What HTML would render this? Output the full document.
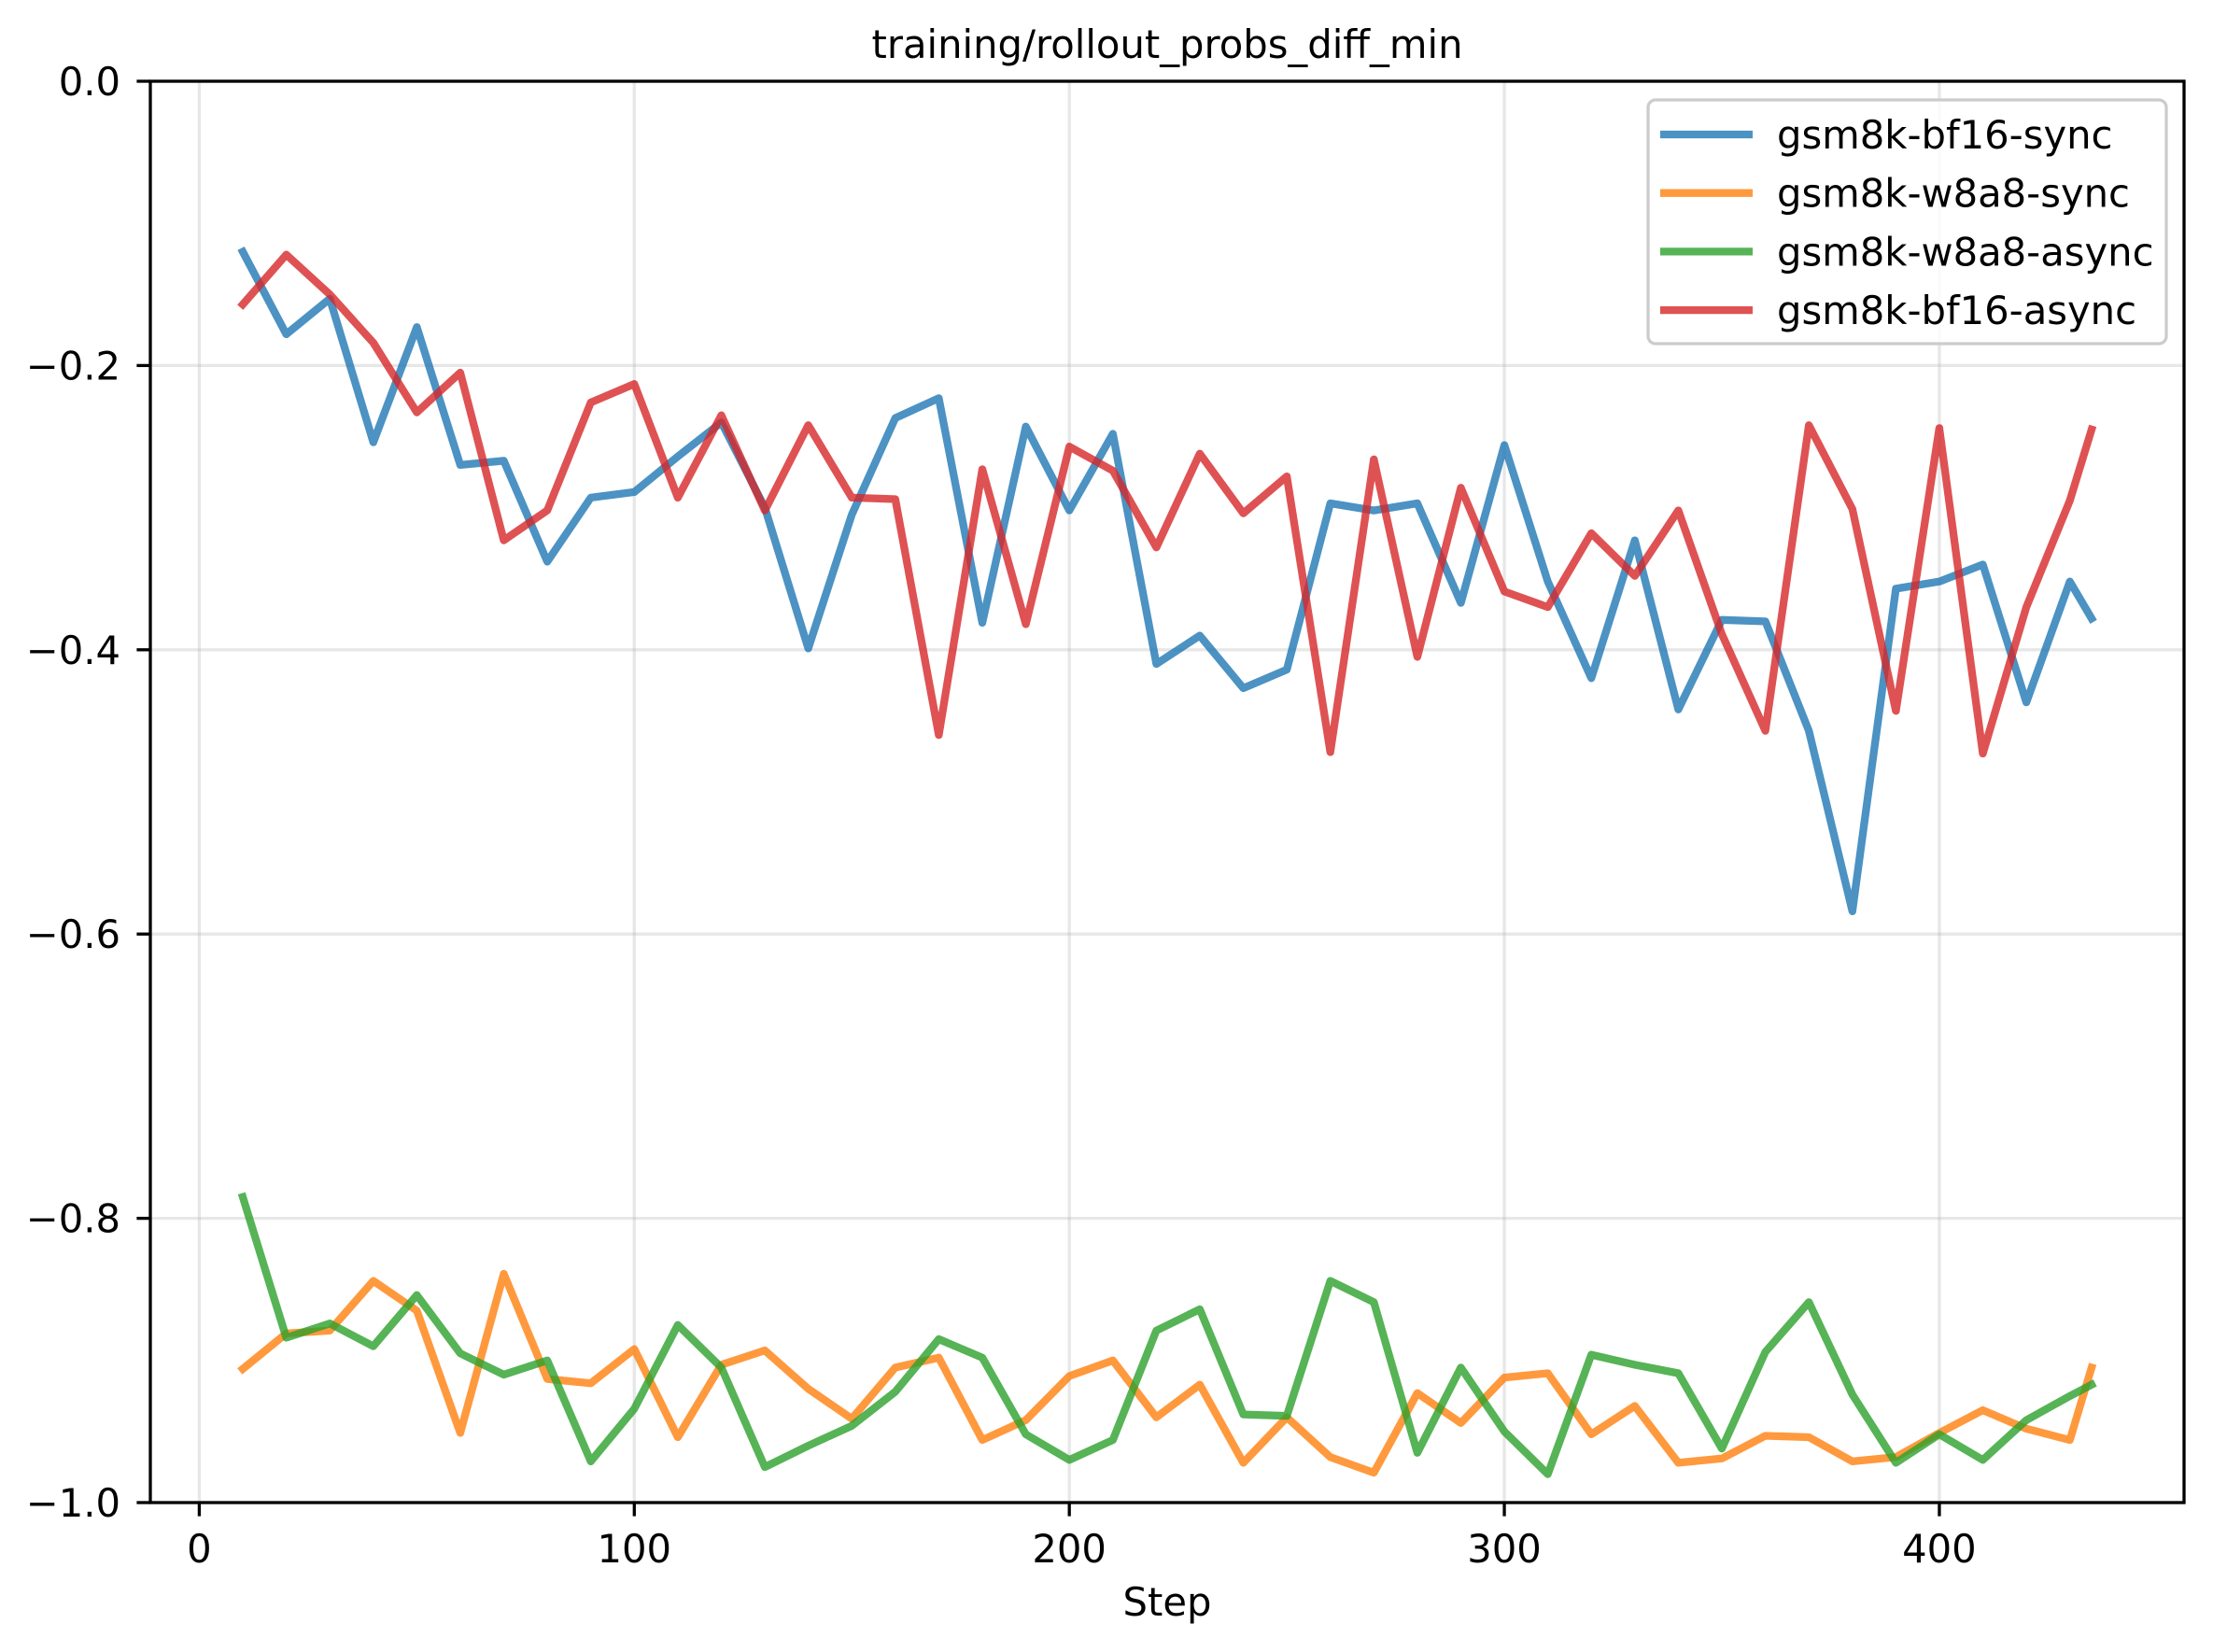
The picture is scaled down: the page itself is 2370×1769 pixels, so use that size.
<!DOCTYPE html>
<html><head><meta charset="utf-8"><style>
html,body{margin:0;padding:0;background:#fff;}
svg{display:block;font-family:"DejaVu Sans","Liberation Sans",sans-serif;}
</style></head><body>
<svg id="chart" width="2370" height="1769" viewBox="0 0 2370 1769" xmlns="http://www.w3.org/2000/svg">
<rect width="2370" height="1769" fill="#fff"/>
<g id="grid"></g>
<g id="series"></g>
<rect x="161" y="87" width="2178" height="1522" fill="none" stroke="#000" stroke-width="3.3"/>
<g id="axes"></g>
<text x="1250" y="62" font-size="41.7" text-anchor="middle">training/rollout_probs_diff_min</text>
<text x="1250" y="1730" font-size="41.7" text-anchor="middle">Step</text>
<g id="legend"></g>
</svg>
<script>
const steps = [10,20,30,40,50,60,70,80,90,100,110,120,130,140,150,160,170,180,190,200,210,220,230,240,250,260,270,280,290,300,310,320,330,340,350,360,370,380,390,400,410,420,430,435];
const bf16Sync = [-0.12,-0.178,-0.153,-0.254,-0.173,-0.27,-0.267,-0.338,-0.293,-0.289,-0.264,-0.24,-0.30,-0.399,-0.305,-0.237,-0.223,-0.381,-0.243,-0.302,-0.248,-0.41,-0.39,-0.427,-0.414,-0.297,-0.302,-0.297,-0.367,-0.256,-0.352,-0.42,-0.323,-0.442,-0.379,-0.38,-0.457,-0.584,-0.357,-0.352,-0.34,-0.437,-0.352,-0.378];
const w8a8Sync = [-0.906,-0.881,-0.879,-0.844,-0.865,-0.951,-0.839,-0.913,-0.916,-0.892,-0.954,-0.903,-0.893,-0.92,-0.941,-0.905,-0.898,-0.956,-0.942,-0.911,-0.9,-0.94,-0.917,-0.972,-0.94,-0.968,-0.979,-0.923,-0.944,-0.912,-0.909,-0.952,-0.932,-0.972,-0.969,-0.953,-0.954,-0.971,-0.968,-0.951,-0.935,-0.948,-0.956,-0.905];
const w8a8Async = [-0.785,-0.884,-0.874,-0.89,-0.854,-0.895,-0.91,-0.9,-0.971,-0.934,-0.875,-0.905,-0.975,-0.96,-0.946,-0.922,-0.885,-0.898,-0.952,-0.97,-0.956,-0.879,-0.864,-0.938,-0.939,-0.844,-0.859,-0.965,-0.905,-0.95,-0.98,-0.896,-0.903,-0.909,-0.962,-0.894,-0.859,-0.924,-0.972,-0.952,-0.97,-0.942,-0.925,-0.917];
const bf16Async = [-0.157,-0.122,-0.15,-0.184,-0.233,-0.205,-0.323,-0.302,-0.226,-0.213,-0.293,-0.235,-0.302,-0.242,-0.293,-0.294,-0.46,-0.273,-0.382,-0.257,-0.274,-0.328,-0.262,-0.304,-0.278,-0.472,-0.266,-0.405,-0.286,-0.359,-0.37,-0.318,-0.348,-0.302,-0.389,-0.457,-0.242,-0.301,-0.443,-0.244,-0.473,-0.37,-0.295,-0.245];
const seriesNames = ["gsm8k-bf16-sync","gsm8k-w8a8-sync","gsm8k-w8a8-async","gsm8k-bf16-async"];
const xTicks = [0,100,200,300,400];
const yTicks = [0,-0.2,-0.4,-0.6,-0.8,-1.0];
const yTickLabels = ["0.0","\u22120.2","\u22120.4","\u22120.6","\u22120.8","\u22121.0"];

const NS="http://www.w3.org/2000/svg";
const L=161,R=2339,T=87,B=1609, XMIN=-11.25, XMAX=456.25, YMIN=-1, YMAX=0;
const xs=v=>L+(v-XMIN)/(XMAX-XMIN)*(R-L);
const ys=v=>B-(v-YMIN)/(YMAX-YMIN)*(B-T);
function mk(tag,attrs,parent){const e=document.createElementNS(NS,tag);for(const k in attrs)e.setAttribute(k,attrs[k]);parent.appendChild(e);return e;}
const grid=document.getElementById('grid'),axes=document.getElementById('axes'),sg=document.getElementById('series'),lg=document.getElementById('legend');
xTicks.forEach(t=>{
  const x=xs(t);
  const g=mk('line',{x1:x,x2:x,y1:T,y2:B,stroke:'#b0b0b0','stroke-opacity':0.3,'stroke-width':3.3},grid);
  
  
  const tk=mk('line',{x1:x,x2:x,y1:B,y2:B+14.6,stroke:'#000','stroke-width':3.3},axes);
  
  
  const tx=mk('text',{x:x,y:1673,'font-size':41.7,'text-anchor':'middle'},axes);
  tx.textContent=t;
  
  
});
yTicks.forEach((t,i)=>{
  const y=ys(t);
  const g=mk('line',{x1:L,x2:R,y1:y,y2:y,stroke:'#b0b0b0','stroke-opacity':0.3,'stroke-width':3.3},grid);
  
  
  const tk=mk('line',{x1:L-14.6,x2:L,y1:y,y2:y,stroke:'#000','stroke-width':3.3},axes);
  
  
  const tx=mk('text',{x:129,y:y+15,'font-size':41.7,'text-anchor':'end'},axes);
  tx.textContent=yTickLabels[i];
  
  
});
const allSeries=[bf16Sync,w8a8Sync,w8a8Async,bf16Async];
const colors=['#1f77b4','#ff7f0e','#2ca02c','#d62728'];
allSeries.forEach((vals,i)=>{
  const d=vals.map((v,j)=>(j?'L':'M')+xs(steps[j]).toFixed(1)+','+ys(v).toFixed(1)).join('');
  const p=mk('path',{d:d,fill:'none',stroke:colors[i],'stroke-opacity':0.8,'stroke-width':8.3,'stroke-linejoin':'round','stroke-linecap':'square'},sg);
  
  
});
const box=mk('rect',{x:1765,y:107,width:555,height:261,rx:8,fill:'#fff','fill-opacity':0.8,stroke:'#cccccc','stroke-width':3.3},lg);


seriesNames.forEach((n,i)=>{
  const y=144+i*62.7;
  const ln=mk('line',{x1:1778,x2:1877,y1:y,y2:y,stroke:colors[i],'stroke-opacity':0.8,'stroke-width':8.3},lg);
  
  
  const t=mk('text',{x:1903,y:y+15,'font-size':41.7},lg);
  t.textContent=n;
  
  
});
</script>
</body></html>
